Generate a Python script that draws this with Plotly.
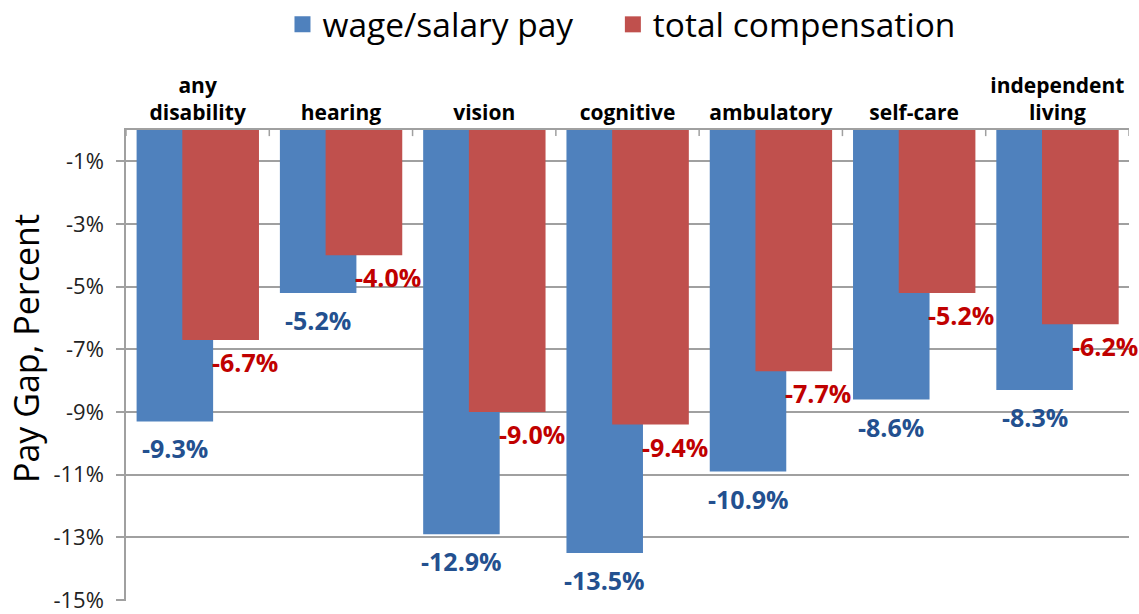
import plotly.graph_objects as go

# data
categories = ["any<br>disability", "hearing", "vision", "cognitive",
              "ambulatory", "self-care", "independent<br>living"]
wage_gap = [-9.3, -5.2, -12.9, -13.5, -10.9, -8.6, -8.3]
total_gap = [-6.7, -4.0, -9.0, -9.4, -7.7, -5.2, -6.2]
y_ticks = [-1, -3, -5, -7, -9, -11, -13, -15]
series = ["wage/salary pay", "total compensation"]

BLUE = "#4F81BD"
RED = "#C0504D"
BLUE_TXT = "#23508F"
RED_TXT = "#C00000"
GRID = "#A0A0A0"
FONT = "Open Sans, sans-serif"

idx = list(range(len(categories)))

fig = go.Figure()
fig.add_trace(go.Bar(
    name=series[0], x=idx, y=wage_gap, showlegend=False,
    marker=dict(color=BLUE, line=dict(width=0)),
    offset=-0.426, width=0.534,
))
fig.add_trace(go.Bar(
    name=series[1], x=idx, y=total_gap, showlegend=False,
    marker=dict(color=RED, line=dict(width=0)),
    offset=-0.107, width=0.535,
))
# legend entries with larger square swatches (nbsp padding widens the gap)
legend_names = [series[0] + "\u00a0" * 4, series[1]]
for name, col in zip(legend_names, [BLUE, RED]):
    fig.add_trace(go.Scatter(
        x=[None], y=[None], mode="markers", name=name,
        marker=dict(symbol="square", size=22, color=col),
    ))

# value labels
anns = []
for i, v in enumerate(wage_gap):
    anns.append(dict(x=i - 0.159, y=v, text=f"{v:.1f}%", showarrow=False,
                     yshift=-27, font=dict(size=25, color=BLUE_TXT, family=FONT,
                                           weight="bold")))
for i, v in enumerate(total_gap):
    anns.append(dict(x=i + 0.33, y=v, text=f"{v:.1f}%", showarrow=False,
                     yshift=-22, font=dict(size=25, color=RED_TXT, family=FONT,
                                           weight="bold")))
# y axis title, sits a little above the plot centre as in the original
anns.append(dict(x=0, y=0.535, xref="paper", yref="paper", xshift=-100,
                 text="Pay Gap, Percent", textangle=-90, showarrow=False,
                 xanchor="center", yanchor="middle",
                 font=dict(size=34, color="#000000", family=FONT)))

fig.update_layout(
    width=1139, height=614,
    barmode="overlay",
    paper_bgcolor="white", plot_bgcolor="white",
    font=dict(family=FONT, color="#000000"),
    margin=dict(l=126, r=10, t=130, b=13, autoexpand=False),
    showlegend=True,
    legend=dict(orientation="h", x=0.494, xanchor="center",
                yref="container", y=0.96, yanchor="middle",
                font=dict(size=33.5, color="#000000"),
                itemwidth=30, traceorder="normal"),
    annotations=anns,
)
fig.update_xaxes(
    type="linear", range=[-0.5, len(categories) - 0.5],
    side="top", tickmode="array", tickvals=idx, ticktext=categories,
    tickfont=dict(size=21, color="#000000", family=FONT, weight="bold"),
    showgrid=False, ticks="", showline=True, linecolor=GRID, linewidth=1.5,
    zeroline=False, automargin=False,
)
# boundary tick marks at top of plot
for b in [i - 0.5 for i in range(len(categories) + 1)]:
    fig.add_shape(type="line", xref="x", yref="paper", x0=b, x1=b, y0=1, y1=0.987,
                  line=dict(color=GRID, width=1.5))
fig.update_yaxes(
    range=[-15.03, 0], tickmode="array", tickvals=y_ticks,
    ticktext=[f"{t}%" for t in y_ticks],
    tickfont=dict(size=22, color="#222222", family=FONT),
    showgrid=True, gridcolor=GRID, gridwidth=1.5,
    showline=True, linecolor=GRID, linewidth=1.5,
    ticks="outside", ticklen=8, tickcolor=GRID, tickwidth=1.5,
    ticklabelstandoff=8, ticklabeloverflow="allow",
    zeroline=False, automargin=False,
)

fig.write_html("out.html", config={"displayModeBar": False},
               post_script="document.body.style.margin='0';")
